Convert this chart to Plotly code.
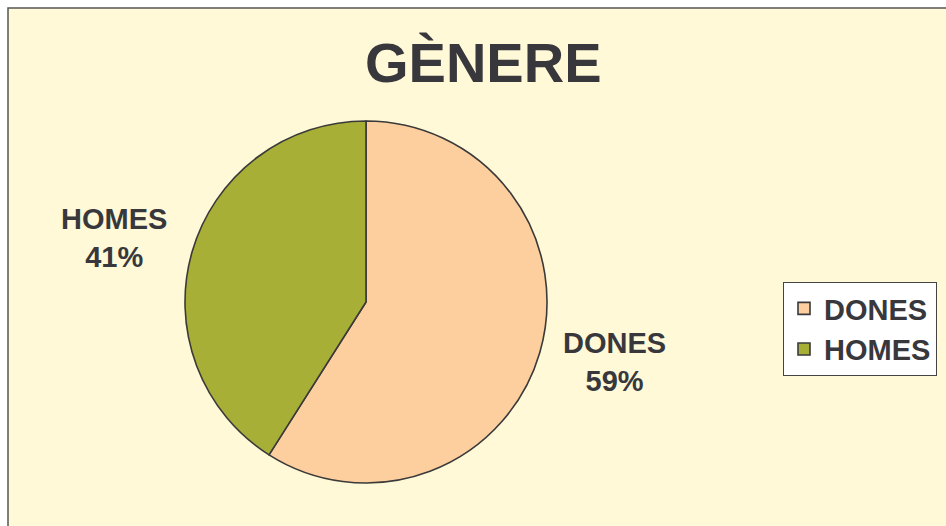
import plotly.graph_objects as go

labels = ["DONES", "HOMES"]
values = [59, 41]
colors = ["#FDCF9E", "#A8AF37"]
title_text = "GÈNERE"

W, H = 946, 526
FONT = "Liberation Sans, Arial, sans-serif"
TXT = "#38383C"

def px(x):
    return x / W

def py(y):
    return 1 - y / H

fig = go.Figure()
fig.add_trace(go.Pie(
    labels=labels,
    values=values,
    sort=False,
    direction="clockwise",
    rotation=0,
    marker=dict(colors=colors, line=dict(color="#3A3A3A", width=1.6)),
    textinfo="none",
    hoverinfo="label+percent",
    domain=dict(x=[px(184), px(548)], y=[py(483), py(121)]),
))

# outside labels (label + percent)
total = sum(values)
label_pos = {"DONES": (614, 362), "HOMES": (114, 238)}
for lab, val in zip(labels, values):
    x, y = label_pos[lab]
    fig.add_annotation(
        x=px(x), y=py(y), xref="paper", yref="paper",
        text=f"{lab}<br>{round(100 * val / total)}%",
        showarrow=False, xanchor="center", yanchor="middle",
        font=dict(family=FONT, size=29, color=TXT),
    )

fig.add_annotation(
    x=px(483), y=py(63), xref="paper", yref="paper",
    text=f"<b>{title_text}</b>", showarrow=False,
    xanchor="center", yanchor="middle",
    font=dict(family=FONT, size=56, color=TXT),
)

# chart area background with border
fig.add_shape(type="rect", xref="paper", yref="paper",
              x0=px(8), x1=1.05, y0=-0.05, y1=py(8),
              line=dict(color="#555555", width=1.5),
              fillcolor="#FFF9D7", layer="below")

fig.update_layout(
    width=W, height=H,
    margin=dict(l=0, r=0, t=0, b=0, autoexpand=False),
    paper_bgcolor="white",
    plot_bgcolor="white",
    font=dict(family=FONT, color=TXT),
    showlegend=True,
    legend=dict(
        x=px(783), y=py(282), xanchor="left", yanchor="top",
        bgcolor="white", bordercolor="#444444", borderwidth=1,
        font=dict(family=FONT, size=29, color=TXT, weight="bold"),
        itemwidth=30, tracegroupgap=0,
    ),
)
fig.update_annotations(font_weight="bold")

fig.write_html(
    "out.html",
    config={"displayModeBar": False},
    post_script="document.body.style.margin='0';document.body.style.overflow='hidden';",
)
